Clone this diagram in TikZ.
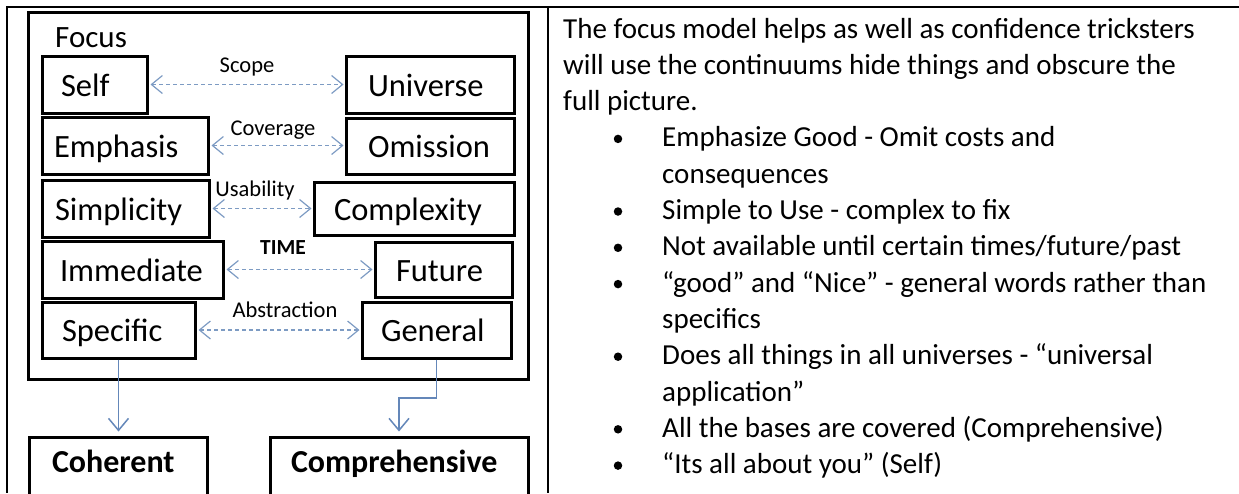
\documentclass[tikz,border=0pt]{standalone}
\usepackage{fontspec}
\setmainfont{Carlito}
\usetikzlibrary{arrows.meta}
\definecolor{dashblue}{RGB}{125,155,195}
\definecolor{linkblue}{RGB}{100,135,185}

\begin{document}
\begin{tikzpicture}[x=1pt,y=-1pt]
\tikzstyle{every node}+=[inner sep=0pt]
\tikzstyle{box}=[draw, black, line width=3pt, align=left, text height=25pt, text depth=2pt, font=\fontsize{32.5}{38}\selectfont]
\tikzstyle{result}=[box, text height=20pt, text depth=23pt, font=\fontsize{32}{38}\selectfont\bfseries]
\tikzstyle{tag}=[font=\fontsize{22.5}{27}\selectfont]
\tikzstyle{dual}=[dashblue, line width=1.2pt, dash pattern=on 4pt off 3pt, shorten <=2pt, shorten >=1pt, {Straight Barb[length=11pt,width=18pt]}-{Straight Barb[length=11pt,width=18pt]}]
\tikzstyle{link}=[linkblue, line width=1.5pt, shorten >=4pt, -{Straight Barb[length=12pt,width=20pt]}]
\tikzstyle{line}=[anchor=base west, font=\fontsize{29}{36}\selectfont]
\tikzstyle{dot}=[circle, fill=black, minimum size=8.5pt]
\useasboundingbox (0,0) rectangle (1239,493);
\clip (0,0) rectangle (1239,493);
% table rules
\draw [black, line width=2pt] (6,7) -- (1239,7);
\draw [black, line width=2pt] (7,7) -- (7,493);
\draw [black, line width=2pt] (548,7) -- (548,493);
% focus model
\node [draw, black, line width=3pt, minimum width=500, minimum height=367] (frame) at (278,195.5) {};
\node [anchor=base west, font=\fontsize{31}{37}\selectfont] (focus) at (55,47) {Focus};
\node [box, minimum width=105, minimum height=57, inner xsep=19, text width=67] (self) at (94.5,84.5) {Self};
\node [box, minimum width=168, minimum height=57, inner xsep=22, text width=124] (universe) at (430,84.5) {Universe};
\node [box, minimum width=166, minimum height=57, inner xsep=12, text width=142] (emphasis) at (125,145.5) {Emphasis};
\node [box, minimum width=168, minimum height=56, inner xsep=22, text width=124] (omission) at (430,146) {Omission};
\node [box, minimum width=167, minimum height=57, inner xsep=13, text width=141] (simplicity) at (125.5,208.5) {Simplicity};
\node [box, minimum width=200, minimum height=53, inner xsep=20, text width=160] (complexity) at (414,208.5) {Complexity};
\node [box, minimum width=181, minimum height=57, inner xsep=18, text width=145] (immediate) at (132.5,269.5) {Immediate};
\node [box, minimum width=137, minimum height=55, inner xsep=21, text width=95] (future) at (443.5,269.5) {Future};
\node [box, minimum width=153, minimum height=56, inner xsep=20, text width=113] (specific) at (118.5,330) {Specific};
\node [box, minimum width=149, minimum height=56, inner xsep=19, text width=111] (general) at (436.5,330) {General};
\node [result, minimum width=178, minimum height=73, inner xsep=23, text width=132] (coherent) at (118,473.5) {Coherent};
\node [result, minimum width=258, minimum height=73, inner xsep=21, text width=216] (comprehensive) at (399,473.5) {Comprehensive};
% continuum labels
\node [tag] (scope) at (247,67) {Scope};
\node [tag] (coverage) at (273,130) {Coverage};
\node [tag] (usability) at (255,190) {Usability};
\node [tag, font=\fontsize{21.5}{26}\selectfont\bfseries] (time) at (283,248) {TIME};
\node [tag] (abstraction) at (285,310) {Abstraction};
% continuums
\draw [dual] (self.east) -- (self.east -| universe.west);
\draw [dual] (emphasis.east) -- (emphasis.east -| omission.west);
\draw [dual] (simplicity.east) -- (simplicity.east -| complexity.west);
\draw [dual] (immediate.east) -- (immediate.east -| future.west);
\draw [dual] (specific.east) -- (specific.east -| general.west);
% outcomes
\draw [link] (specific.south) -- (specific.south |- coherent.north);
\coordinate (elbow) at (436.5,398);
\draw [link] (general.south) -- (elbow) -| (comprehensive.north);
% notes
\node [line] (l1) at (563,38) {The focus model helps as well as confidence tricksters};
\node [line] (l2) at (563,74.3) {will use the continuums hide things and obscure the};
\node [line] (l3) at (563,110.6) {full picture.};
\node [line] (l4) at (662,146.9) {Emphasize Good - Omit costs and};
\node [line] (l5) at (662,183.2) {consequences};
\node [line] (l6) at (662,219.5) {Simple to Use - complex to fix};
\node [line] (l7) at (662,255.8) {Not available until certain times/future/past};
\node [line] (l8) at (662,292.1) {“good” and “Nice” - general words rather than};
\node [line] (l9) at (662,328.4) {specifics};
\node [line] (l10) at (662,364.7) {Does all things in all universes - “universal};
\node [line] (l11) at (662,401) {application”};
\node [line] (l12) at (662,437.3) {All the bases are covered (Comprehensive)};
\node [line] (l13) at (662,473.6) {“Its all about you” (Self)};
\node [dot] (b1) at (618,138.9) {};
\node [dot] (b2) at (618,211.5) {};
\node [dot] (b3) at (618,247.8) {};
\node [dot] (b4) at (618,284.1) {};
\node [dot] (b5) at (618,356.7) {};
\node [dot] (b6) at (618,429.3) {};
\node [dot] (b7) at (618,465.6) {};
\end{tikzpicture}
\end{document}
